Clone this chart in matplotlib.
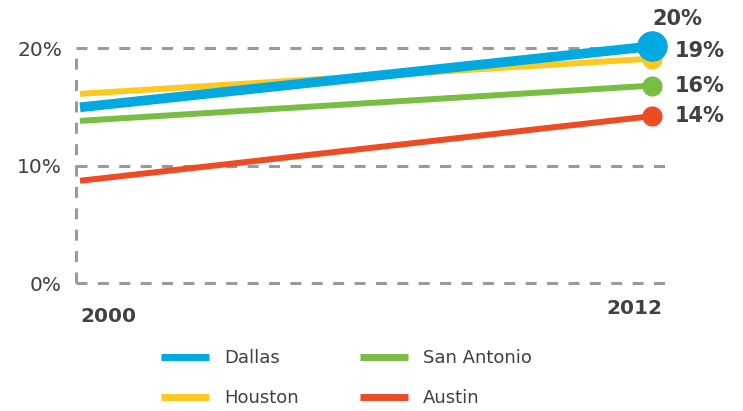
import matplotlib.pyplot as plt

# Données
annees = [2000, 2012]
villes = ["Dallas", "Houston", "San Antonio", "Austin"]
dallas = [14.95, 20.15]
houston = [16.1, 19.1]
san_antonio = [13.8, 16.8]
austin = [8.7, 14.2]
etiquettes_fin = ["20%", "19%", "16%", "14%"]
yticks = [0, 10, 20]

COULEURS = {"Dallas": "#00A9E0", "Houston": "#FFC81E",
            "San Antonio": "#78BE43", "Austin": "#EE4A24"}
TEXTE = "#404040"
GRIS = "#9a9a9a"

fig = plt.figure(figsize=(7.43, 4.11), dpi=100)
ax = fig.add_axes([76/743, 1 - 283/411, (665-76)/743, (283-48)/411])
ax.set_xlim(1999.916, 2012.27)
ax.set_ylim(0, 20)

# Grille pointillée
for y in yticks:
    ax.axhline(y, color=GRIS, lw=2.2, ls=(0, (3.6, 3.4)), zorder=1, clip_on=False)
ax.axvline(1999.916, color=GRIS, lw=2.2, ls=(0, (3.6, 3.4)), zorder=1, clip_on=False)
for s in ax.spines.values():
    s.set_visible(False)
ax.set_xticks([])
ax.set_yticks(yticks)
ax.set_yticklabels([f"{v}%" for v in yticks], fontsize=14.5, color=TEXTE)
ax.tick_params(axis="y", length=0, pad=10)

# Courbes (Dallas au-dessus)
series = {"Dallas": dallas, "Houston": houston, "San Antonio": san_antonio, "Austin": austin}
ordre = ["Austin", "San Antonio", "Houston", "Dallas"]
lignes = {}
for i, nom in enumerate(ordre):
    vals = series[nom]
    lw = 7 if nom == "Dallas" else 4.3
    ms = 22 if nom == "Dallas" else 14.5
    ln, = ax.plot(annees, vals, color=COULEURS[nom], lw=lw, solid_capstyle="butt",
                  zorder=3 + i, clip_on=False, label=nom)
    ax.plot(annees[-1], vals[-1], "o", color=COULEURS[nom], ms=ms, mec="none",
            zorder=3 + i, clip_on=False)
    lignes[nom] = ln

# Étiquettes de fin
ax.annotate(etiquettes_fin[0], (annees[-1], dallas[-1]), xytext=(18, 19.5),
            textcoords="offset points", ha="center", va="center",
            fontsize=15, fontweight="bold", color=TEXTE, annotation_clip=False)
decalages = [5.8, 0, 0]
for txt, vals, dy in zip(etiquettes_fin[1:], [houston, san_antonio, austin], decalages):
    ax.annotate(txt, (annees[-1], vals[-1]), xytext=(16, dy),
                textcoords="offset points", ha="left", va="center",
                fontsize=15, fontweight="bold", color=TEXTE, annotation_clip=False)

# Années
fig.text(80/743, 1 - 317/411, "2000", fontsize=14.5, fontweight="bold",
         color=TEXTE, ha="left", va="center")
fig.text(662/743, 1 - 308/411, "2012", fontsize=14.5, fontweight="bold",
         color=TEXTE, ha="right", va="center")

# Légende
handles = [lignes["Dallas"], lignes["Houston"], lignes["San Antonio"], lignes["Austin"]]
leg = fig.legend(handles, [h.get_label() for h in handles], ncol=2, frameon=False,
                 loc="upper left", bbox_to_anchor=(145/743, 1 - 333/411),
                 fontsize=13, handlelength=2.66, handletextpad=0.83,
                 columnspacing=3.4, labelspacing=1.23)
for t in leg.get_texts():
    t.set_color(TEXTE)
for h in leg.legend_handles:
    h.set_linewidth(5)

fig.savefig("out.png", dpi=100)
